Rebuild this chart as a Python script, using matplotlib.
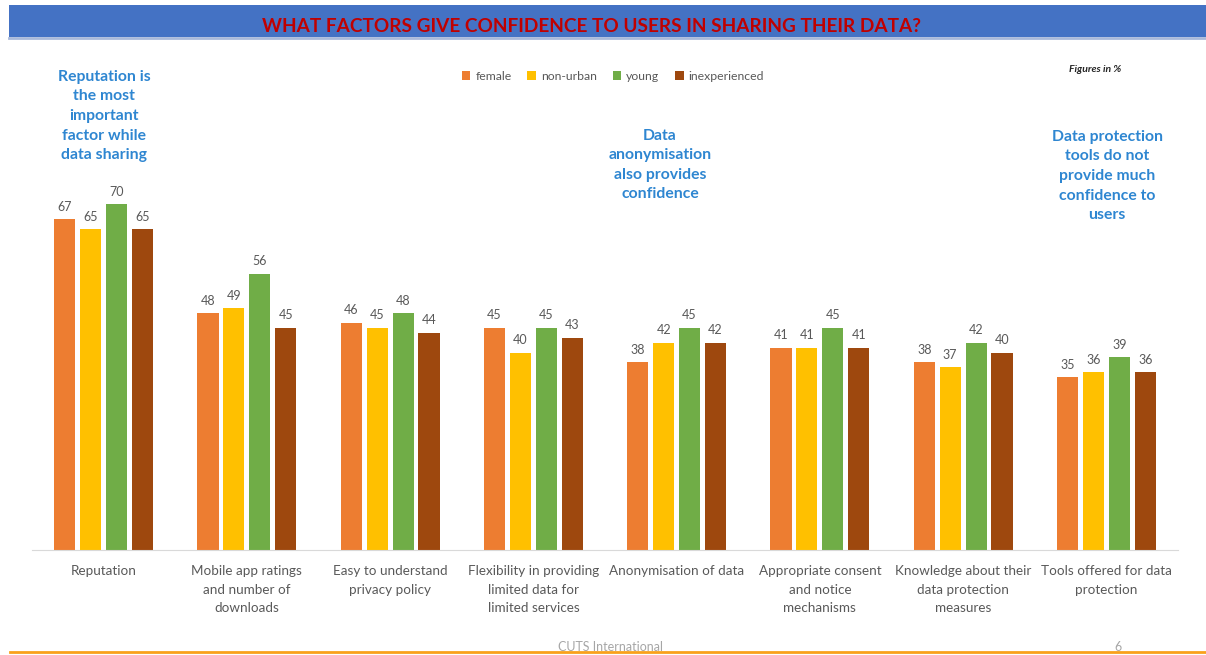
import numpy as np
import matplotlib.pyplot as plt
from matplotlib.patches import Rectangle
from matplotlib.lines import Line2D

plt.rcParams['font.family'] = ['Lato', 'DejaVu Sans']

categories = ['Reputation', 'Mobile app ratings\nand number of\ndownloads',
              'Easy to understand\nprivacy policy',
              'Flexibility in providing\nlimited data for\nlimited services',
              'Anonymisation of data', 'Appropriate consent\nand notice\nmechanisms',
              'Knowledge about their\ndata protection\nmeasures',
              'Tools offered for data\nprotection']
series = ['female', 'non-urban', 'young', 'inexperienced']
female = [67, 48, 46, 45, 38, 41, 38, 35]
non_urban = [65, 49, 45, 40, 42, 41, 37, 36]
young = [70, 56, 48, 45, 45, 45, 42, 39]
inexperienced = [65, 45, 44, 43, 42, 41, 40, 36]
colors = ['#ED7D31', '#FFC000', '#70AD47', '#9E480E']

W, H = 1206, 655
fig = plt.figure(figsize=(W / 100, H / 100), dpi=100)

# header band
fig.patches.append(Rectangle((9 / W, 1 - 37 / H), 1 - 9 / W, 32 / H,
                             transform=fig.transFigure, facecolor='#4472C4',
                             edgecolor='none', zorder=0))
fig.lines.append(Line2D([9 / W, 1], [1 - 38 / H, 1 - 38 / H], transform=fig.transFigure,
                        color='#A9B9DA', lw=2))
fig.text(591 / W, 1 - 27 / H, 'WHAT FACTORS GIVE CONFIDENCE TO USERS IN SHARING THEIR DATA?',
         color='#C00000', fontsize=13.7, fontweight='bold', ha='center', va='center')

# footer
fig.text(610 / W, 1 - 651 / H, 'CUTS International', color='#A6A6A6', fontsize=9,
         ha='center', va='baseline')
fig.text(1118 / W, 1 - 651 / H, '6', color='#A6A6A6', fontsize=9, ha='center', va='baseline')
fig.lines.append(Line2D([10 / W, 1], [1 - 652 / H, 1 - 652 / H], transform=fig.transFigure,
                        color='#F9A11B', lw=2))

ax = fig.add_axes([32 / W, 105 / H, 1146 / W, 395 / H])
x = np.arange(len(categories))
bw = 0.147
step = 0.181
for i, (name, vals) in enumerate(zip(series, [female, non_urban, young, inexperienced])):
    pos = x + (i - 1.5) * step
    ax.bar(pos, vals, width=bw, color=colors[i], label=name)
    for p, v in zip(pos, vals):
        ax.text(p, v + 1.3, str(v), ha='center', va='bottom', fontsize=9, color='#595959')

ax.set_xlim(-0.5, len(categories) - 0.5)
ax.set_ylim(0, 80)
ax.set_yticks([])
ax.set_xticks(x)
ax.set_xticklabels(categories, fontsize=9.7, color='#595959', linespacing=1.65)
ax.tick_params(axis='x', length=0, pad=11)
for s in ['top', 'right', 'left']:
    ax.spines[s].set_visible(False)
ax.spines['bottom'].set_color('#D9D9D9')

fig.legend(loc='center', bbox_to_anchor=(613 / W, 1 - 76 / H), ncol=4, frameon=False,
           fontsize=8.8, handlelength=0.7, handleheight=0.7, handletextpad=0.4,
           columnspacing=1.3, labelcolor='#595959')
fig.text(1095 / W, 1 - 70 / H, 'Figures in %', fontsize=7.5, fontstyle='italic',
         fontweight='bold', color='#262626', ha='center', va='center')

blue = '#2E86D1'
fig.text(104 / W, 1 - 116 / H, 'Reputation is\nthe most\nimportant\nfactor while\ndata sharing',
         color=blue, fontsize=11.3, fontweight='bold', ha='center', va='center', linespacing=1.5)
fig.text(660 / W, 1 - 165 / H, 'Data\nanonymisation\nalso provides\nconfidence',
         color=blue, fontsize=11.3, fontweight='bold', ha='center', va='center', linespacing=1.5)
fig.text(1107 / W, 1 - 176 / H, 'Data protection\ntools do not\nprovide much\nconfidence to\nusers',
         color=blue, fontsize=11.3, fontweight='bold', ha='center', va='center', linespacing=1.5)

fig.savefig('out.png', dpi=100)
